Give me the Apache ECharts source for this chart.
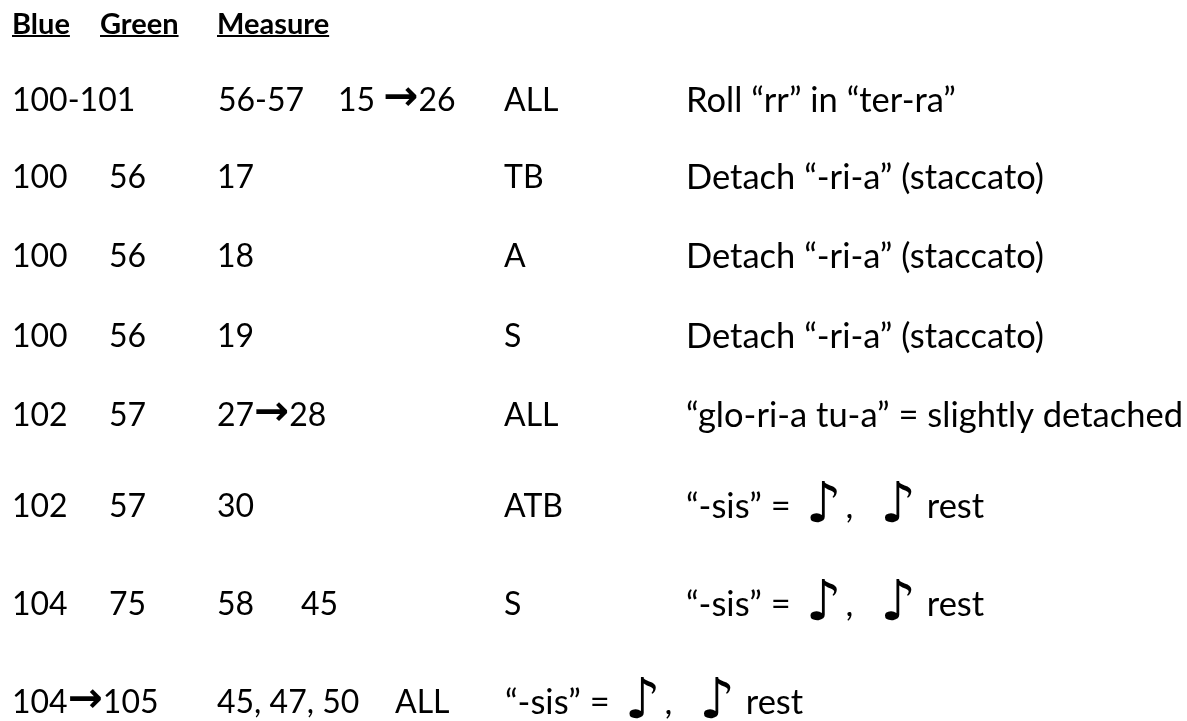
<!DOCTYPE html>
<html><head><meta charset="utf-8">
<script src="https://cdn.jsdelivr.net/npm/echarts@6/dist/echarts.min.js"></script>
<style>html,body{margin:0;padding:0;background:#fff}#c{width:1187px;height:721px}</style>
</head><body><div id="c"></div>
<script>
// ---- content ----
const headers = ['Blue', 'Green', 'Measure'];
const blueCol = ['100-101', '100', '100', '100', '102', '102', '104', '104{a|→}105'];
const greenCol = ['56-57', '56', '56', '56', '57', '57', '75', ''];
const measureCol = ['15 {a|→}26', '17', '18', '19', '27{a|→}28', '30', '58', '45, 47, 50'];
const extraCol = ['', '', '', '', '', '', '45', ''];
const voiceCol = ['ALL', 'TB', 'A', 'S', 'ALL', 'ATB', 'S', 'ALL'];
const noteCol = [
  'Roll “rr” in “ter-ra”',
  'Detach “-ri-a” (staccato)',
  'Detach “-ri-a” (staccato)',
  'Detach “-ri-a” (staccato)',
  '“glo-ri-a tu-a” = slightly detached',
  '“-sis” = {n1|♪},{n2|♪} rest',
  '“-sis” = {n1|♪},{n2|♪} rest',
  '“-sis” = {n1|♪},{n2|♪} rest'
];

// ---- layout ----
const FONT = 'Lato';
const FS = { blue: 32, green: 32, measure: 32, extra: 32, voice: 32, note: 34.5 };
const headerX = [12, 100, 217];
const headerY = 25;
const rowY = [101, 178, 257, 337, 416, 507, 605, 703];
const colX = { blue: 12, green: 109, measure: 217, extra: 301, voice: 504, note: 686 };
const override = {
  0: { green: 218, measure: 338 },
  7: { voice: 395, note: 505 }
};
const rich = {
  a: { fontFamily: 'DejaVu Sans', fontWeight: 'bold', fontSize: 42, fill: '#000', padding: [0, 0, 4, 0] },
  n1: { fontFamily: 'DejaVu Sans', fontSize: 56, fill: '#000', padding: [0, 4, 0, 6] },
  n2: { fontFamily: 'DejaVu Sans', fontSize: 56, fill: '#000', padding: [0, 2, 0, 27] }
};

const chart = echarts.init(document.getElementById('c'), null, { renderer: 'canvas' });
const measure = document.createElement('canvas').getContext('2d');
const elements = [];

headers.forEach((h, i) => {
  measure.font = 'bold 29px ' + FONT;
  const w = measure.measureText(h).width;
  elements.push({
    type: 'text', x: headerX[i], y: headerY,
    style: { text: h, fontFamily: FONT, fontWeight: 'bold', fontSize: 29, fill: '#000', verticalAlign: 'middle' }
  });
  elements.push({
    type: 'rect', shape: { x: headerX[i], y: headerY + 10, width: w, height: 2 },
    style: { fill: '#000' }
  });
});

const cols = { blue: blueCol, green: greenCol, measure: measureCol, extra: extraCol, voice: voiceCol, note: noteCol };
rowY.forEach((y, r) => {
  Object.keys(cols).forEach(k => {
    const t = cols[k][r];
    if (!t) return;
    const x = (override[r] && override[r][k] !== undefined) ? override[r][k] : colX[k];
    elements.push({
      type: 'text', x: x, y: y,
      style: { text: t, fontFamily: FONT, fontSize: FS[k], fill: '#000', verticalAlign: 'middle', rich: rich }
    });
  });
});

chart.setOption({
  backgroundColor: '#fff',
  animation: false,
  graphic: { elements: elements }
});
</script>
</body></html>
